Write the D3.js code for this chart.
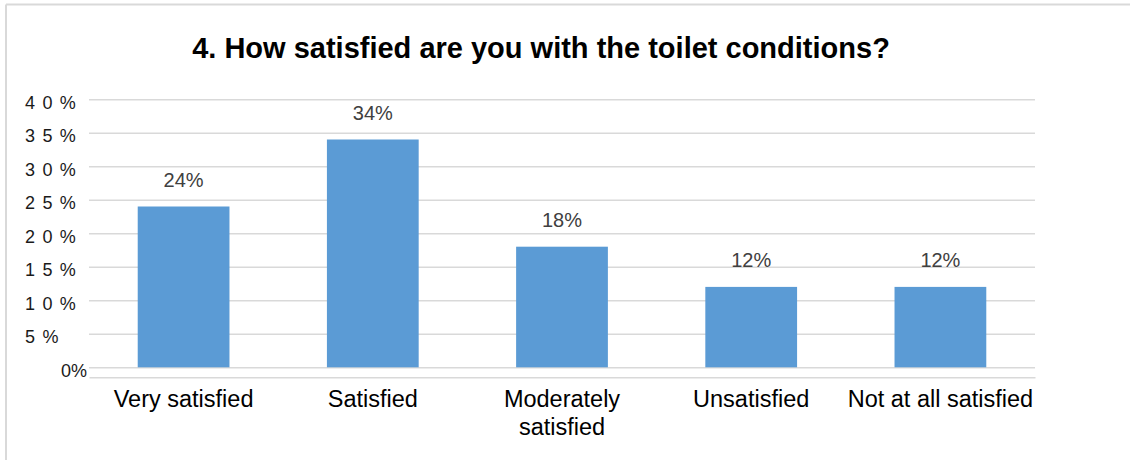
<!DOCTYPE html>
<html>
<head>
<meta charset="utf-8">
<script src="https://cdn.jsdelivr.net/npm/d3@7/dist/d3.min.js"></script>
<style>
  html, body { margin: 0; padding: 0; background: #fff; }
  svg { display: block; }
  text { font-family: "Liberation Sans", Arial, sans-serif; }
</style>
</head>
<body>
<svg id="chart" width="1130" height="460"></svg>
<script>
// Survey answers and their shares
const categories = ["Very satisfied", "Satisfied", "Moderately satisfied", "Unsatisfied", "Not at all satisfied"];
const shares = [0.24, 0.34, 0.18, 0.12, 0.12];
const valueLabels = ["24%", "34%", "18%", "12%", "12%"];
const yTicks = [0, 0.05, 0.10, 0.15, 0.20, 0.25, 0.30, 0.35, 0.40];
const yTickLabels = ["0%", "5 %", "1 0 %", "1 5 %", "2 0 %", "2 5 %", "3 0 %", "3 5 %", "4 0 %"];
const title = "4. How satisfied are you with the toilet conditions?";

const W = 1130, H = 460;
const plot = { left: 89, right: 1035, top: 99.3, bottom: 367.3 };

const svg = d3.select("#chart");

// Frame: light top and left edges
svg.append("line").attr("x1", 6).attr("x2", W).attr("y1", 4.5).attr("y2", 4.5)
  .attr("stroke", "#d9d9d9").attr("stroke-width", 2);
svg.append("line").attr("x1", 6).attr("x2", 6).attr("y1", 4.5).attr("y2", H)
  .attr("stroke", "#d9d9d9").attr("stroke-width", 2);

// Title
svg.append("text")
  .attr("x", 541).attr("y", 58)
  .attr("text-anchor", "middle")
  .attr("font-size", 29).attr("font-weight", "bold")
  .attr("fill", "#000")
  .text(title);

const x = d3.scaleBand()
  .domain(categories)
  .range([plot.left, plot.right])
  .paddingInner(0.515)
  .paddingOuter(0.2575);

const y = d3.scaleLinear()
  .domain([0, 0.40])
  .range([plot.bottom, plot.top]);

// Horizontal gridlines
const grid = svg.append("g")
  .attr("transform", `translate(${plot.left},0)`)
  .call(d3.axisLeft(y).tickValues(yTicks).tickSize(-(plot.right - plot.left)).tickFormat(""));
grid.select(".domain").remove();
grid.selectAll(".tick line").attr("stroke", "#d9d9d9").attr("stroke-width", 1.6);

// Y tick labels
svg.append("g").selectAll("text")
  .data(yTicks)
  .join("text")
  .attr("x", d => d === 0 ? 87 : 25)
  .attr("y", d => y(d) + 3)
  .attr("dy", "0.35em")
  .attr("text-anchor", d => d === 0 ? "end" : "start")
  .attr("font-size", 18)
  .attr("letter-spacing", d => d === 0 ? 0 : 1.2)
  .attr("fill", "#1a1a1a")
  .text((d, i) => yTickLabels[i]);

// Bottom rule under the category axis
const xAxis = svg.append("g")
  .attr("transform", `translate(0,${plot.bottom + 10})`)
  .call(d3.axisBottom(x).tickSize(0).tickFormat(""));
xAxis.select(".domain").attr("stroke", "#d9d9d9").attr("stroke-width", 1.6);

// Bars
svg.append("g").selectAll("rect")
  .data(categories)
  .join("rect")
  .attr("x", d => x(d))
  .attr("width", x.bandwidth())
  .attr("y", (d, i) => y(shares[i]))
  .attr("height", (d, i) => y(0) - y(shares[i]))
  .attr("fill", "#5b9bd5");

// Value labels above the bars
svg.append("g").selectAll("text")
  .data(categories)
  .join("text")
  .attr("x", d => x(d) + x.bandwidth() / 2)
  .attr("y", (d, i) => y(shares[i]) - 20)
  .attr("text-anchor", "middle")
  .attr("font-size", 20)
  .attr("fill", "#404040")
  .text((d, i) => valueLabels[i]);

// Category labels, wrapped onto two lines where they are long
const wrapAt = { "Moderately satisfied": ["Moderately", "satisfied"] };
const catG = svg.append("g").selectAll("text")
  .data(categories)
  .join("text")
  .attr("x", d => x(d) + x.bandwidth() / 2)
  .attr("y", 407)
  .attr("text-anchor", "middle")
  .attr("font-size", 23.5)
  .attr("fill", "#000");
catG.each(function(d) {
  const lines = wrapAt[d] || [d];
  const t = d3.select(this);
  lines.forEach((ln, k) => {
    t.append("tspan")
      .attr("x", x(d) + x.bandwidth() / 2)
      .attr("dy", k === 0 ? 0 : 28)
      .text(ln);
  });
});
</script>
</body>
</html>
